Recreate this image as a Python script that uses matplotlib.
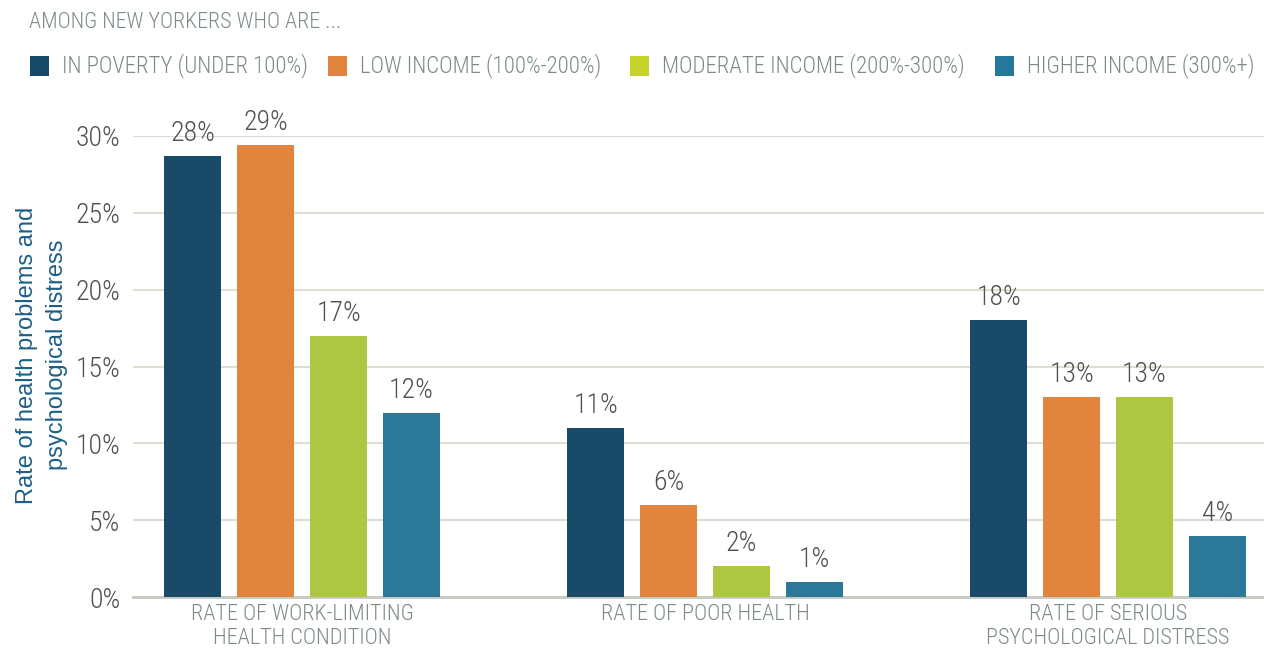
import matplotlib
matplotlib.use("Agg")
import matplotlib.pyplot as plt
from matplotlib.patches import Rectangle
import numpy as np

plt.rcParams['font.family'] = ['Roboto Condensed', 'DejaVu Sans']
plt.rcParams['font.weight'] = 'light'

# data
categories = ["RATE OF WORK-LIMITING\nHEALTH CONDITION",
              "RATE OF POOR HEALTH",
              "RATE OF SERIOUS\nPSYCHOLOGICAL DISTRESS"]
series = ["IN POVERTY (UNDER 100%)", "LOW INCOME (100%-200%)",
          "MODERATE INCOME (200%-300%)", "HIGHER INCOME (300%+)"]
poverty = [28.7, 11, 18]
low = [29.4, 6, 13]
moderate = [17, 2, 13]
higher = [12, 1, 4]
poverty_lbl = ["28%", "11%", "18%"]
low_lbl = ["29%", "6%", "13%"]
moderate_lbl = ["17%", "2%", "13%"]
higher_lbl = ["12%", "1%", "4%"]
yticks = [0, 5, 10, 15, 20, 25, 30]

bar_colors = ["#194a68", "#e0843e", "#adc742", "#2c7898"]
legend_colors = ["#174a68", "#e0843e", "#c6d42a", "#26789a"]
gray = "#7d8a8a"
dark = "#4f5050"

W, H = 1264, 650
fig = plt.figure(figsize=(W / 100, H / 100), dpi=100)
ax = fig.add_axes([133 / W, (H - 597) / H, (W - 133) / W, (597 - 136) / H])

x = np.arange(len(categories))
step = 0.181
width = 0.141
vals = [poverty, low, moderate, higher]
lbls = [poverty_lbl, low_lbl, moderate_lbl, higher_lbl]
for i, (v, lb) in enumerate(zip(vals, lbls)):
    pos = x + (i - 1.5) * step
    ax.bar(pos, v, width, color=bar_colors[i], zorder=3)
    for p, h, t in zip(pos, v, lb):
        ax.annotate(t, (p, h), xytext=(0, 6.5), textcoords="offset points",
                    ha="center", va="bottom", fontsize=20, color=dark,
                    annotation_clip=False)

ax.set_xlim(-0.42, 2.387)
ax.set_ylim(0, 30)
ax.set_yticks(yticks)
ax.set_yticklabels([f"{t}%" for t in yticks], fontsize=20, color=dark)
ax.yaxis.grid(True, color="#deded3", linewidth=1.5, zorder=0)
ax.tick_params(axis="y", length=0, pad=9)
ax.tick_params(axis="x", length=0, pad=5)
ax.set_xticks(x)
ax.set_xticklabels(categories, fontsize=16, color=gray, linespacing=1.2)
for s in ["top", "right", "left"]:
    ax.spines[s].set_visible(False)
ax.spines["bottom"].set_color("#c8c8c0")
ax.spines["bottom"].set_linewidth(2)

fig.text(42 / W, 1 - 355 / H, "Rate of health problems and\npsychological distress",
         rotation=90, ha="center", va="center", fontsize=17, color="#1c5f87",
         family=["Liberation Sans", "DejaVu Sans"], weight="normal",
         linespacing=1.45)

fig.text(29 / W, 1 - 23 / H, "AMONG NEW YORKERS WHO ARE ...", fontsize=15.8,
         color=gray, va="center")

# legend row
leg_x = [30, 328, 630, 995]
leg_y = 66
sq = 19
for lx, c, s in zip(leg_x, legend_colors, series):
    fig.patches.append(Rectangle((lx / W, 1 - (leg_y + sq / 2) / H), sq / W, sq / H,
                                 transform=fig.transFigure, facecolor=c,
                                 edgecolor="none"))
    fig.text((lx + sq + 13) / W, 1 - leg_y / H, s, fontsize=16.5, color=gray,
             va="center")

fig.savefig("out.png", dpi=100)
